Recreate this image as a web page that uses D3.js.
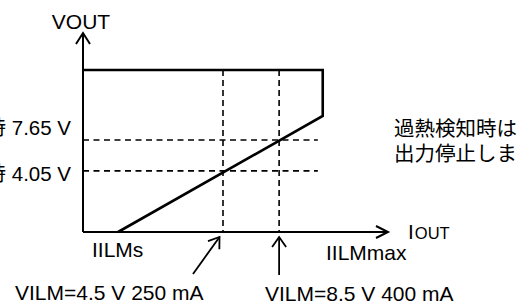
<!DOCTYPE html>
<html><head><meta charset="utf-8">
<script src="https://cdn.jsdelivr.net/npm/d3@7"></script>
<style>html,body{margin:0;padding:0;background:#fff;overflow:hidden}</style>
</head><body>
<svg id="c" width="524" height="306"></svg>
<script>
// schematic units (0..100 on both axes)
const axisLabels = ["VOUT", "I", "OUT"];
const voltLabels = ["時 7.65 V", "時 4.05 V"];
const voltLevels = [46.2, 30.7];
const currentMarks = ["IILMs", "IILMmax"];
const currentLevels = [45.9, 64.3];
const currentNotes = ["VILM=4.5 V 250 mA", "VILM=8.5 V 400 mA"];
const curveX = [0, 78.6, 78.6, 11.5];
const curveY = [81.4, 81.4, 58.3, 0];
const dashXEnd = 77.0;
const noteLines = ["過熱検知時は", "出力停止しま"];

const svg = d3.select("#c");
const x = d3.scaleLinear().domain([0, 100]).range([83, 388]);
const y = d3.scaleLinear().domain([0, 100]).range([232, 33]);
const font = "'Liberation Sans', Arial, sans-serif";

// dashed guides
svg.selectAll("line.hd").data(voltLevels).join("line")
  .attr("x1", x(0)).attr("x2", x(dashXEnd))
  .attr("y1", d => y(d)).attr("y2", d => y(d))
  .attr("stroke", "#000").attr("stroke-width", 1.6).attr("stroke-dasharray", "6,4.5");
svg.selectAll("line.vd").data(currentLevels).join("line")
  .attr("x1", d => x(d)).attr("x2", d => x(d))
  .attr("y1", y(curveY[0])).attr("y2", y(0))
  .attr("stroke", "#000").attr("stroke-width", 1.6).attr("stroke-dasharray", "6,4");

// curve
const pts = curveX.map((v, i) => [x(v), y(curveY[i])]);
svg.append("path").attr("d", d3.line()(pts))
  .attr("fill", "none").attr("stroke", "#000").attr("stroke-width", 2.6).attr("stroke-linejoin", "miter");

// axes
svg.append("line").attr("x1", x(0)).attr("x2", x(0)).attr("y1", y(0)).attr("y2", y(100))
  .attr("stroke", "#000").attr("stroke-width", 2);
svg.append("line").attr("x1", x(0)).attr("x2", x(100)).attr("y1", y(0)).attr("y2", y(0))
  .attr("stroke", "#000").attr("stroke-width", 2);
const head = (tx, ty, ang, len, half) => {
  const a = ang * Math.PI / 180;
  const bx = tx - len * Math.cos(a), by = ty - len * Math.sin(a);
  const px = -Math.sin(a) * half, py = Math.cos(a) * half;
  return d3.line()([[bx + px, by + py], [tx, ty], [bx - px, by - py]]);
};
svg.append("path").attr("d", head(x(0), y(100), -90, 11, 7))
  .attr("fill", "none").attr("stroke", "#000").attr("stroke-width", 2);
svg.append("path").attr("d", head(x(100), y(0), 0, 12, 6))
  .attr("fill", "none").attr("stroke", "#000").attr("stroke-width", 2);

// pointer arrows
const arrows = [[193, 274, 219.5, 237], [x(currentLevels[1]), 275, x(currentLevels[1]), 237]];
arrows.forEach(([x1, y1, x2, y2]) => {
  svg.append("line").attr("x1", x1).attr("y1", y1).attr("x2", x2).attr("y2", y2)
    .attr("stroke", "#000").attr("stroke-width", 1.8);
  const ang = Math.atan2(y2 - y1, x2 - x1) * 180 / Math.PI;
  svg.append("path").attr("d", head(x2, y2, ang, 10, 7))
    .attr("fill", "none").attr("stroke", "#000").attr("stroke-width", 1.8);
});

// texts
const t = (txt, tx, ty, anchor, size, fam) => svg.append("text").text(txt)
  .attr("x", tx).attr("y", ty).attr("text-anchor", anchor || "start")
  .attr("font-family", fam || font).attr("font-size", size || 21).attr("fill", "#000");

t(axisLabels[0], 81, 29, "middle");
const io = svg.append("text").attr("x", 408).attr("y", 239).attr("font-family", font).attr("fill", "#000");
io.append("tspan").text(axisLabels[1]).attr("font-size", 21);
io.append("tspan").text(axisLabels[2]).attr("font-size", 16.5).attr("dx", 1);

voltLabels.forEach((s, i) => t(s, 71, [135, 181][i], "end", 20.5,
  "'Liberation Sans', 'Noto Sans CJK JP', sans-serif"));
t(currentMarks[0], 92, 257);
t(currentMarks[1], 326, 259.5);
t(currentNotes[0], 15, 300);
t(currentNotes[1], 265, 300.5);
noteLines.forEach((s, i) => t(s, 394, [136, 161][i], "start", 20.5, "'Noto Sans CJK JP', sans-serif"));
</script>
</body></html>
